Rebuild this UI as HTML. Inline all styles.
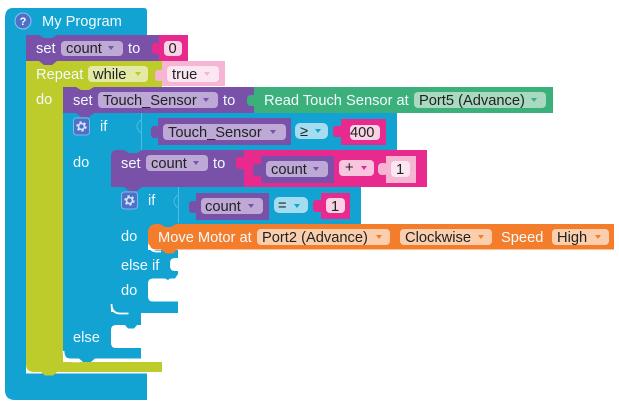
<!DOCTYPE html>
<html>
<head>
<meta charset="utf-8">
<style>
html,body{margin:0;padding:0;background:#fff;width:619px;height:404px;overflow:hidden}
svg{display:block}
text{font-family:"Liberation Sans",Arial,sans-serif;font-size:14.67px}
.w{fill:#fff}
.l{fill:#f2fbff}
.d{fill:#222}
</style>
</head>
<body>
<svg width="619" height="404" viewBox="0 0 619 404" xmlns="http://www.w3.org/2000/svg">
<!-- outer program block -->
<path d="M13 8H144q3 0 3 3V35H26V373.500H147V400H15q-10 0-10-10V18q0-10 8-10z" fill="#12a3d3"/>
<!-- repeat -->
<path d="M26 61H162V87H63V362H162V372H34q-8 0-8-8z" fill="#bdcc2a"/>
<path d="M41 372l4 3.500h8l4-3.500z" fill="#bdcc2a"/>
<path d="M162 61H225V86H162z" fill="#f5b5d3"/>
<rect x="155" y="70" width="9" height="11" rx="3" fill="#f5b5d3"/>
<rect x="88" y="66" width="60" height="16" rx="4" fill="#e4eaa6"/>
<path d="M135 72l3 4 3-4z" fill="#bdcc2a"/>
<rect x="167" y="66" width="52" height="16" rx="4" fill="#fbe6f1"/>
<path d="M204 72l3 4 3-4z" fill="#f5b5d3"/>
<!-- set count -->
<path d="M26 35H159V61H26z" fill="#7a51a9"/>
<path d="M39 35l5 3h8l5-3z" fill="#12a3d3"/>
<path d="M39 61l5 4h8l5-4z" fill="#7a51a9"/>
<rect x="159" y="35" width="29" height="26" fill="#e8298e"/>
<rect x="152" y="43" width="9" height="11" rx="3" fill="#e8298e"/>
<rect x="164" y="41" width="18" height="15" rx="4" fill="#f9d3e5"/>
<rect x="61" y="41" width="62" height="15" rx="4" fill="#bda8d6"/>
<path d="M108 46l3 4 3-4z" fill="#7a51a9"/>

<!-- outer if -->
<path d="M63 113H397V150H118V160H111V312H141V325H137l-3 3.500h-6l-3-3.500h-9q-5 0-5 5v13q0 5 5 5h25V358.500H71q-8 0-8-8z" fill="#12a3d3"/>
<path d="M79 358.500l4 3.500h8l4-3.500z" fill="#12a3d3"/>
<rect x="141" y="113" width="1" height="37" fill="#4fbde0"/>
<path d="M141 120q-8 6 0 13" stroke="#4fbde0" fill="none"/>
<path d="M63.500 351q0 9 9 10.300h7" stroke="#fff" fill="none" stroke-width="1.800"/>
<!-- set touch sensor -->
<path d="M63 87H254V113H63z" fill="#7a51a9"/>
<path d="M76 87l5 3h8l5-3z" fill="#bdcc2a"/>
<path d="M76 113l5 4h8l5-4z" fill="#7a51a9"/>
<rect x="98" y="92" width="120" height="16" rx="4" fill="#bda8d6"/>
<path d="M203 98l3 4 3-4z" fill="#7a51a9"/>
<rect x="254" y="87" width="299" height="26" fill="#3bb07a"/>
<path d="M254 95h-3q-4 0-4 4v3q0 4 4 4h3z" fill="#3bb07a"/>
<rect x="414" y="92" width="132" height="16" rx="4" fill="#a9d9c0"/>
<path d="M531 98l3 4 3-4z" fill="#3bb07a"/>
<!-- gear 1 -->
<rect x="73.500" y="118" width="16" height="17" rx="3" fill="#4d70c9" stroke="#7fb8e8"/>
<circle cx="81.500" cy="126.500" r="4" fill="none" stroke="#d8e4f6" stroke-width="2.400" stroke-dasharray="2.100 2.100"/>
<circle cx="81.500" cy="126.500" r="3" fill="none" stroke="#d8e4f6" stroke-width="1.600"/>
<!-- condition 1 -->
<rect x="158" y="118" width="133" height="27" fill="#7a51a9"/>
<rect x="151" y="126" width="9" height="12" rx="3" fill="#7a51a9"/>
<rect x="163" y="124" width="123" height="16" rx="4" fill="#bda8d6"/>
<path d="M270 130l3 4 3-4z" fill="#7a51a9"/>
<rect x="295" y="123" width="33" height="16" rx="5" fill="#a5dcef"/>
<path d="M315 129l3 4 3-4z" fill="#12a3d3"/>
<rect x="341" y="119" width="45" height="26" fill="#e8298e"/>
<rect x="333" y="126" width="10" height="11" rx="3" fill="#e8298e"/>
<rect x="350" y="125" width="30" height="15" rx="4" fill="#f9d3e5"/>

<!-- inner if -->
<path d="M111 187H361V224H160V234H148V250H178V258h-3q-5 0-5 5v3q0 5 5 5h3v3l-3 4.500h-5l-2 1.500-3-1.500h-12q-5 0-5 5v13q0 5 5 5H178V313H119q-8 0-8-8z" fill="#12a3d3"/>
<path d="M128 313l3 4h5l3-4z" fill="#12a3d3"/>
<path d="M111.500 304q0 9 8 9.500h9" stroke="#fff" stroke-width="1.800" fill="none"/>
<rect x="178" y="187" width="1" height="36" fill="#4fbde0"/>
<path d="M178 195q-8 6 0 13" stroke="#4fbde0" fill="none"/>
<!-- set count 2 -->
<path d="M117 150H244V187H111V156q0-6 6-6z" fill="#7a51a9"/>
<path d="M124 150l5 3h8l5-3z" fill="#12a3d3"/>
<path d="M124 187l5 4h8l5-4z" fill="#7a51a9"/>
<rect x="146" y="155" width="62" height="16" rx="4" fill="#bda8d6"/>
<path d="M193 161l3 4 3-4z" fill="#7a51a9"/>
<rect x="244" y="150" width="183" height="37" fill="#e8298e"/>
<rect x="236" y="157" width="10" height="12" rx="3" fill="#e8298e"/>
<rect x="261" y="156" width="73" height="27" fill="#7a51a9"/>
<rect x="253" y="164" width="10" height="12" rx="3" fill="#7a51a9"/>
<rect x="266" y="161" width="62" height="16" rx="4" fill="#bda8d6"/>
<path d="M313 167l3 4 3-4z" fill="#7a51a9"/>
<rect x="339" y="160" width="35" height="16" rx="4" fill="#f9c4de"/>
<path d="M361 166l3 4 3-4z" fill="#e8298e"/>
<rect x="386" y="156" width="30" height="27" fill="#f5b5d3"/>
<rect x="378" y="163" width="10" height="12" rx="4" fill="#f5b5d3"/>
<rect x="391" y="161" width="19" height="16" rx="4" fill="#fbe6f1"/>
<!-- gear 2 -->
<rect x="121.500" y="192" width="16" height="17" rx="3" fill="#4d70c9" stroke="#7fb8e8"/>
<circle cx="129.500" cy="200.500" r="4" fill="none" stroke="#d8e4f6" stroke-width="2.400" stroke-dasharray="2.100 2.100"/>
<circle cx="129.500" cy="200.500" r="3" fill="none" stroke="#d8e4f6" stroke-width="1.600"/>
<!-- condition 2 -->
<rect x="196" y="193" width="73" height="27" fill="#7a51a9"/>
<rect x="189" y="201" width="9" height="12" rx="3" fill="#7a51a9"/>
<rect x="201" y="198" width="62" height="16" rx="4" fill="#bda8d6"/>
<path d="M248 204l3 4 3-4z" fill="#7a51a9"/>
<rect x="274" y="197" width="34" height="16" rx="5" fill="#a5dcef"/>
<path d="M294 204l3 4 3-4z" fill="#12a3d3"/>
<rect x="321" y="193" width="29" height="26" fill="#e8298e"/>
<rect x="313" y="200" width="10" height="12" rx="3" fill="#e8298e"/>
<rect x="326" y="198" width="19" height="15" rx="4" fill="#f9d3e5"/>

<!-- move motor -->
<path d="M157 249.500q-9 0-9-9v-7.500q0-9 9-9H614V249.500z" fill="#f47d2c"/>
<path d="M160 224l5 3h6l5-3z" fill="#12a3d3"/>
<path d="M161 249.500l5 4h7l4-4z" fill="#f47d2c"/>
<path d="M149 245q1 6 7 6.500h5" stroke="#fff" stroke-width="1.800" fill="none"/>
<rect x="257" y="229" width="133" height="16" rx="4" fill="#fbcfae"/>
<path d="M376 235l3 4 3-4z" fill="#f47d2c"/>
<rect x="400" y="229" width="92" height="16" rx="4" fill="#fbcfae"/>
<path d="M478 235l3 4 3-4z" fill="#f47d2c"/>
<rect x="552" y="229" width="57" height="16" rx="4" fill="#fbcfae"/>
<path d="M595 235l3 4 3-4z" fill="#f47d2c"/>

<!-- labels -->
<circle cx="23" cy="21" r="8" fill="#4d70c9" stroke="#8cc4ee"/>
<text x="23" y="25" text-anchor="middle" class="w" style="font-size:11px;font-weight:bold">?</text>
<text x="42" y="26" class="l">My Program</text>
<text x="36" y="53" class="l">set</text>
<text x="66" y="53" class="d">count</text>
<text x="128" y="53" class="l">to</text>
<text x="168.500" y="53" class="d">0</text>
<text x="36" y="79" class="l">Repeat</text>
<text x="93" y="79" class="d">while</text>
<text x="172" y="79" class="d">true</text>
<text x="36" y="104" class="l">do</text>
<text x="73" y="105" class="l">set</text>
<text x="103" y="105" class="d">Touch_Sensor</text>
<text x="223" y="105" class="l">to</text>
<text x="264" y="105" class="l">Read Touch Sensor at</text>
<text x="419" y="105" class="d">Port5 (Advance)</text>
<text x="100" y="131" class="l">if</text>
<text x="168" y="137" class="d">Touch_Sensor</text>
<text x="300" y="136" class="d">≥</text>
<text x="350" y="137" class="d">400</text>
<text x="73" y="167" class="l">do</text>
<text x="121" y="168" class="l">set</text>
<text x="151" y="168" class="d">count</text>
<text x="213" y="168" class="l">to</text>
<text x="271" y="174" class="d">count</text>
<text x="345" y="172" class="d">+</text>
<text x="396" y="174" class="d">1</text>
<text x="148" y="205" class="l">if</text>
<text x="205" y="211" class="d">count</text>
<text x="278" y="210" class="d">=</text>
<text x="331" y="211" class="d">1</text>
<text x="121" y="241" class="l">do</text>
<text x="158" y="242" class="l">Move Motor at</text>
<text x="262" y="242" class="d">Port2 (Advance)</text>
<text x="405" y="242" class="d">Clockwise</text>
<text x="501" y="242" class="l">Speed</text>
<text x="557" y="242" class="d">High</text>
<text x="121" y="270" class="l">else if</text>
<text x="121" y="295" class="l">do</text>
<text x="73" y="342" class="l">else</text>
</svg>
</body>
</html>
